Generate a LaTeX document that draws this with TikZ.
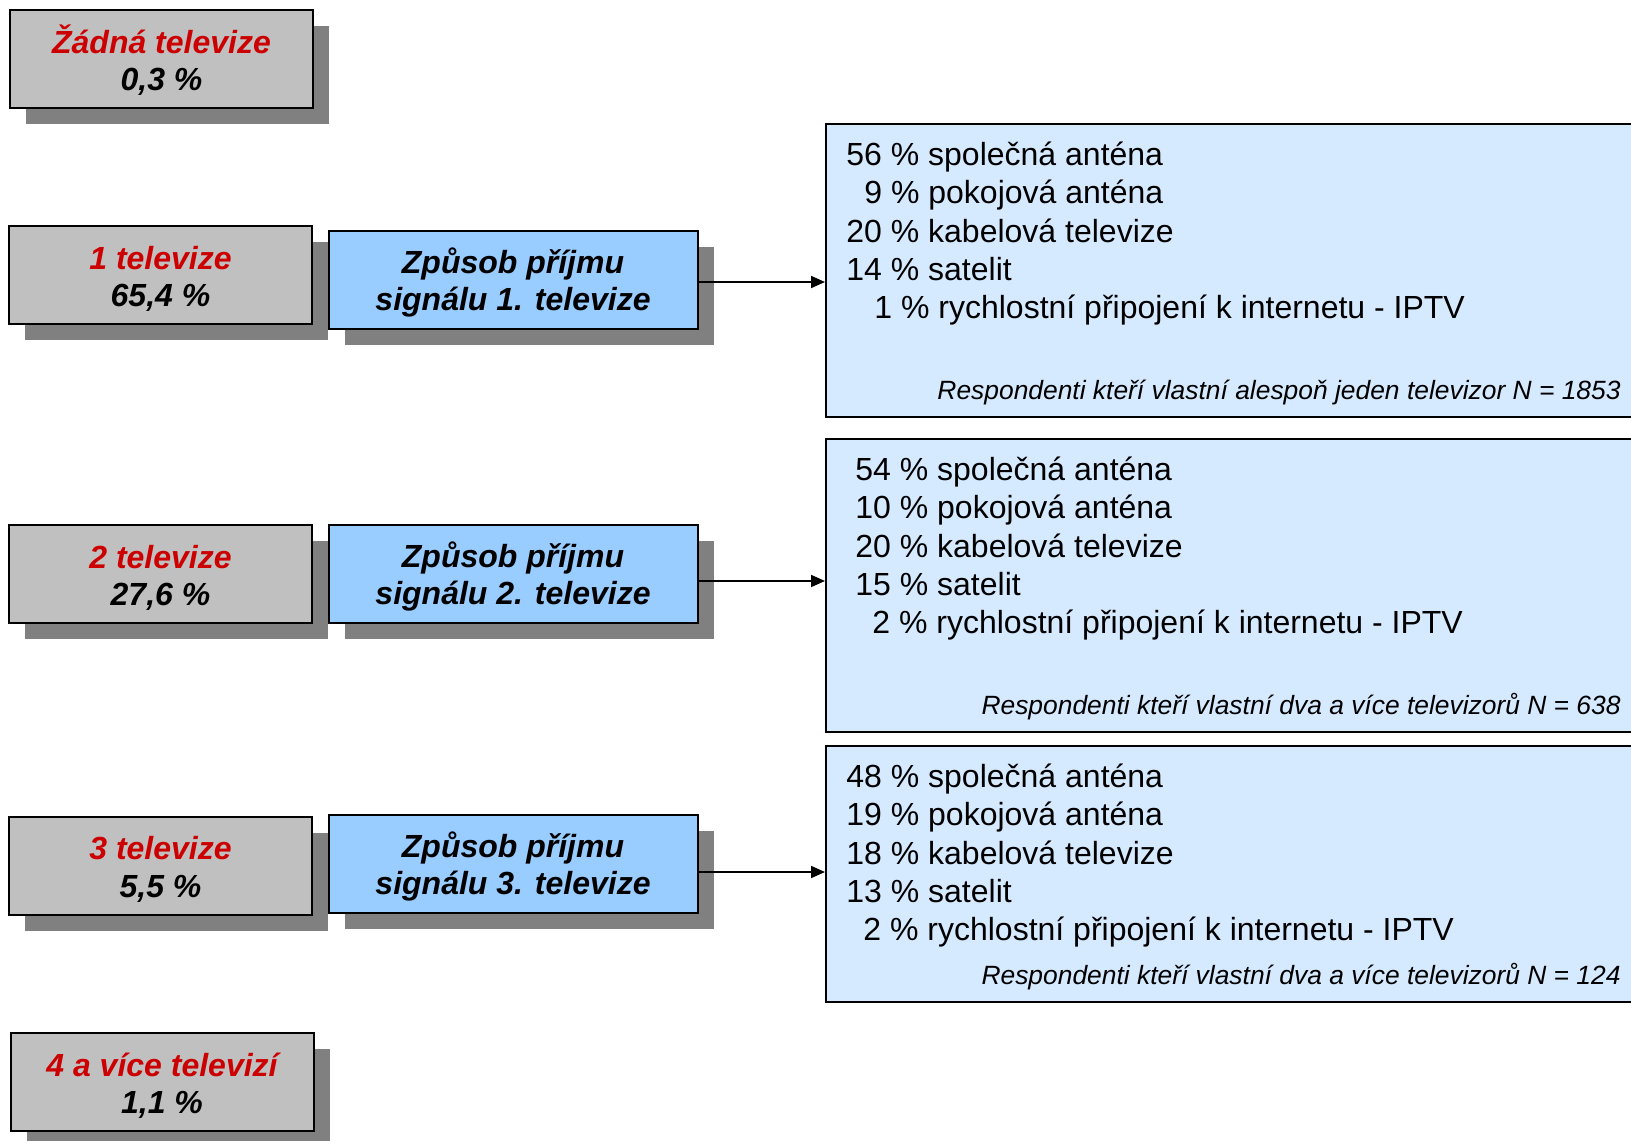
\documentclass[tikz,border=0pt]{standalone}
\usepackage{fontspec}
\setmainfont{Liberation Sans}
\usetikzlibrary{arrows.meta,shadows}

\definecolor{boxgray}{HTML}{C0C0C0}
\definecolor{shadowgray}{HTML}{808080}
\definecolor{sigblue}{HTML}{99CCFF}
\definecolor{resblue}{HTML}{D6EAFF}
\definecolor{tvred}{HTML}{CC0000}

% two lines of a box, with struts so that the text sits as in the original
\newcommand\tvtext[2]{\rule{0pt}{17pt}\textcolor{tvred}{#1}\\#2\rule[-4pt]{0pt}{4pt}}
\newcommand\sigtext[1]{\rule{0pt}{16pt}Způsob příjmu\\signálu #1. televize\rule[-4pt]{0pt}{4pt}}

\tikzset{
  boxshadow/.style={drop shadow={shadow xshift=8pt, shadow yshift=-8pt, fill=shadowgray, opacity=1}},
  tvbox/.style={draw, line width=1pt, fill=boxgray, boxshadow, minimum width=151.5pt, minimum height=49pt,
    align=center, inner sep=0pt, font=\fontsize{16}{18.8}\selectfont\bfseries\itshape},
  sigbox/.style={tvbox, fill=sigblue, minimum width=184.5pt, font=\fontsize{16}{18.8}\selectfont\bfseries\itshape},
  resbox/.style={draw, line width=1pt, fill=resblue, anchor=north west, minimum width=417.5pt, inner sep=0pt},
  resline/.style={anchor=base west, inner sep=0pt, font=\fontsize{16}{19}\selectfont},
  resnote/.style={anchor=base east, inner sep=0pt, font=\fontsize{13.2}{15}\selectfont\itshape},
  arr/.style={-{Triangle[length=7pt,width=6pt]}, line width=0.9pt}
}

\begin{document}
\begin{tikzpicture}[x=0.5pt, y=-0.5pt]
    \useasboundingbox (0,0) rectangle (1631,1140);
    \clip (0,0) rectangle (1631,1140);

    % Number of TV sets
    \node[tvbox] (none) at (161.5,59) {\tvtext{Žádná televize}{0,3 \%}};
    \node[tvbox] (tv1) at (160.5,275) {\tvtext{1 televize}{65,4 \%}};
    \node[tvbox] (tv2) at (160.5,574) {\tvtext{2 televize}{27,6 \%}};
    \node[tvbox] (tv3) at (160.5,865.5) {\tvtext{3 televize}{5,5 \%}};
    \node[tvbox] (tv4) at (162,1082) {\tvtext{4 a více televizí}{1,1 \%}};

    % Signal boxes
    \node[sigbox] (sig1) at (513,280) {\sigtext{1}};
    \node[sigbox] (sig2) at (513,574) {\sigtext{2}};
    \node[sigbox] (sig3) at (513,864) {\sigtext{3}};

    % Result boxes
    \node[resbox, minimum height=146.5pt] (res1) at (825,123) {};
    \node[resbox, minimum height=146.5pt] (res2) at (825,438) {};
    \node[resbox, minimum height=128pt] (res3) at (825,745) {};

    % Lines of the first box
    \foreach \dx/\txt [count=\i] in {0/56 \% společná anténa, 18/9 \% pokojová anténa,
        0/20 \% kabelová televize, 0/14 \% satelit, 28/1 \% rychlostní připojení k internetu - IPTV}
      \node[resline] (resa\i) at ({846+\dx},{165.5+38.25*(\i-1)}) {\txt};
    \node[resnote] (notea) at (1621,399) {Respondenti kteří vlastní alespoň jeden televizor N = 1853};

    % Lines of the second box
    \foreach \dx/\txt [count=\i] in {0/54 \% společná anténa, 0/10 \% pokojová anténa,
        0/20 \% kabelová televize, 0/15 \% satelit, 17/2 \% rychlostní připojení k internetu - IPTV}
      \node[resline] (resb\i) at ({855+\dx},{480.5+38.25*(\i-1)}) {\txt};
    \node[resnote] (noteb) at (1621,714) {Respondenti kteří vlastní dva a více televizorů N = 638};

    % Lines of the third box
    \foreach \dx/\txt [count=\i] in {0/48 \% společná anténa, 0/19 \% pokojová anténa,
        0/18 \% kabelová televize, 0/13 \% satelit, 17/2 \% rychlostní připojení k internetu - IPTV}
      \node[resline] (resc\i) at ({846+\dx},{787.5+38.25*(\i-1)}) {\txt};
    \node[resnote] (notec) at (1621,984) {Respondenti kteří vlastní dva a více televizorů N = 124};

    % Arrows
    \coordinate (a1) at ([yshift=-1pt]sig1.east);
    \coordinate (a2) at ([yshift=-3.5pt]sig2.east);
    \coordinate (a3) at ([yshift=-4pt]sig3.east);
    \draw[arr] (a1) -- (a1 -| res1.west);
    \draw[arr] (a2) -- (a2 -| res2.west);
    \draw[arr] (a3) -- (a3 -| res3.west);
\end{tikzpicture}
\end{document}
